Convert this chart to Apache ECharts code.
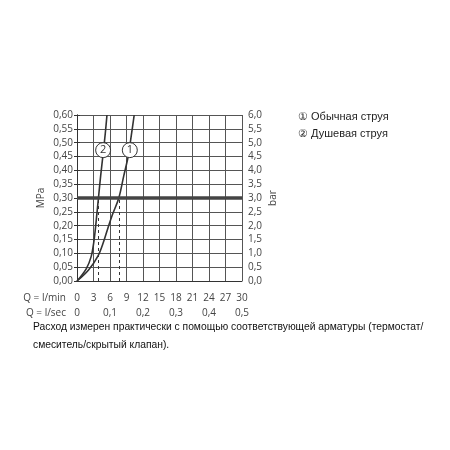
<!DOCTYPE html>
<html>
<head>
<meta charset="utf-8">
<script src="https://cdn.jsdelivr.net/npm/echarts@6/dist/echarts.min.js"></script>
<style>
  html, body { margin: 0; padding: 0; background: #fff; }
  #chart { width: 450px; height: 450px; }
</style>
</head>
<body>
<div id="chart"></div>
<script>
// Q in l/min, p in MPa
var jet1 = [[0,0],[2.1,0.04],[3.8,0.09],[4.8,0.14],[5.6,0.19],[6.45,0.24],[7.6,0.30],[8.5,0.38],[9.3,0.45],[9.9,0.53],[10.4,0.6]];
var jet2 = [[0,0],[1.7,0.045],[2.6,0.09],[3.05,0.14],[3.35,0.19],[3.6,0.24],[3.9,0.30],[4.3,0.38],[4.75,0.46],[5.15,0.535],[5.45,0.6]];
var refPressure = 0.3;
var flowAtRef = [3.9, 7.6];
var labelPoints = [{ name: '1', coord: [9.6, 0.473] }, { name: '2', coord: [4.75, 0.473] }];
var flowUnits = ['Q = l/min', 'Q = l/sec'];
var legendLines = ['\u2460 Обычная струя', '\u2461 Душевая струя'];
var note = ['Расход измерен практически с помощью соответствующей арматуры (термостат/', 'смеситель/скрытый клапан).'];

var chart = echarts.init(document.getElementById('chart'));
var axisFont = { fontFamily: 'Open Sans', fontSize: 10, color: '#444' };
var comma = function (d) { return function (v) { return v.toFixed(d).replace('.', ','); }; };

chart.setOption({
  animation: false,
  grid: { left: 77, top: 115, width: 165, height: 166 },
  xAxis: [{
    type: 'value', min: 0, max: 30, interval: 3, position: 'bottom',
    axisLine: { lineStyle: { color: '#333', width: 1 } },
    axisTick: { show: false },
    axisLabel: Object.assign({ margin: 12 }, axisFont),
    splitLine: { lineStyle: { color: '#555', width: 1 } }
  }, {
    type: 'value', min: 0, max: 0.5, interval: 0.1, position: 'bottom', offset: 15,
    axisLine: { show: false }, axisTick: { show: false }, splitLine: { show: false },
    axisLabel: Object.assign({ margin: 12, formatter: function (v) { return v === 0 ? '0' : comma(1)(v); } }, axisFont)
  }],
  yAxis: [{
    type: 'value', min: 0, max: 0.6, interval: 0.05, position: 'left',
    name: 'MPa', nameLocation: 'middle', nameGap: 31, nameRotate: 90,
    nameTextStyle: axisFont,
    axisLine: { show: true, lineStyle: { color: '#333' } },
    axisTick: { show: true, length: 3, lineStyle: { color: '#333' } },
    axisLabel: Object.assign({ margin: 4, formatter: comma(2) }, axisFont),
    splitLine: { lineStyle: { color: '#555', width: 1 } }
  }, {
    type: 'value', min: 0, max: 6, interval: 0.5, position: 'right',
    name: 'bar', nameLocation: 'middle', nameGap: 26, nameRotate: 90,
    nameTextStyle: axisFont,
    axisLine: { show: true, lineStyle: { color: '#333' } },
    axisTick: { show: true, length: 3, lineStyle: { color: '#333' } },
    axisLabel: Object.assign({ margin: 6, formatter: comma(1) }, axisFont),
    splitLine: { show: false }
  }],
  series: [{
    name: 'jet1', type: 'line', data: jet1, smooth: 0.35, symbol: 'none',
    lineStyle: { color: '#333', width: 1.6 },
    markLine: {
      silent: true, symbol: 'none', label: { show: false },
      data: [
        { yAxis: refPressure, lineStyle: { color: '#444', width: 3.5, type: 'solid' } }
      ].concat(flowAtRef.map(function (q) {
        return [{ coord: [q, 0], lineStyle: { color: '#333', width: 1, type: [3, 3] } }, { coord: [q, refPressure] }];
      }))
    },
    markPoint: {
      symbol: 'circle', symbolSize: 15, silent: true,
      itemStyle: { color: '#fff', borderColor: '#333', borderWidth: 1 },
      label: { show: true, formatter: '{b}', fontFamily: 'Open Sans', fontSize: 11, color: '#333' },
      data: labelPoints
    }
  }, {
    name: 'jet2', type: 'line', data: jet2, smooth: 0.35, symbol: 'none',
    lineStyle: { color: '#333', width: 1.6 }
  }],
  graphic: flowUnits.map(function (t, i) {
    return { type: 'text', style: { text: t, x: 66, y: 298 + i * 15, align: 'right', verticalAlign: 'middle', font: '10px "Open Sans"', fill: '#444' } };
  }).concat(legendLines.map(function (t, i) {
    return { type: 'text', left: 298, top: 111 + i * 17, style: { text: t, font: '11px "Liberation Sans"', fill: '#222' } };
  })).concat(note.map(function (t, i) {
    return { type: 'text', left: 33, top: 322 + i * 18, style: { text: t, font: '10.3px "Liberation Sans"', fill: '#111' } };
  }))
});
</script>
</body>
</html>
